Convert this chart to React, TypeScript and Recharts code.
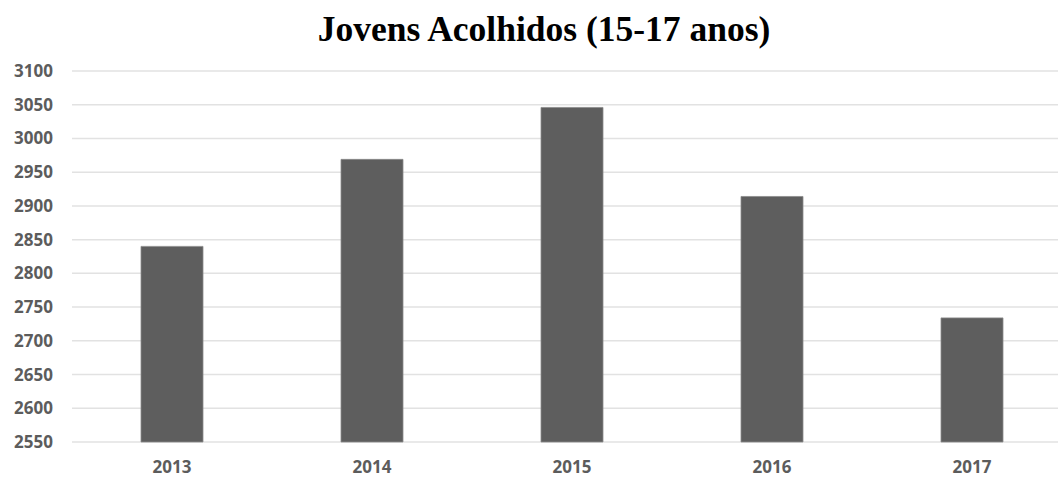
import { BarChart, Bar, XAxis, YAxis, CartesianGrid } from 'recharts';

const years = ['2013', '2014', '2015', '2016', '2017'];
const jovens = [2840, 2969, 3046, 2914, 2734];
const yTicks = [2550, 2600, 2650, 2700, 2750, 2800, 2850, 2900, 2950, 3000, 3050, 3100];

const data = years.map((ano, i) => ({ ano, valor: jovens[i] }));

const axisTick = { fontSize: 17, fill: '#5c5c5c', fontWeight: 700, fontFamily: '"Open Sans", "DejaVu Sans", sans-serif' };

export default function App() {
  return (
    <div style={{ position: 'absolute', left: 0, top: 0, width: 1058, height: 477, overflow: 'hidden', background: '#fff' }}>
      <div
        style={{
          position: 'absolute',
          left: 0,
          top: 9,
          width: 1088,
          textAlign: 'center',
          fontFamily: '"Liberation Serif", "Times New Roman", serif',
          fontWeight: 700,
          fontSize: 35.5,
          lineHeight: '40px',
          color: '#000',
        }}
      >
        Jovens Acolhidos (15-17 anos)
      </div>
      <BarChart width={1072} height={477} data={data} margin={{ top: 71, right: 0, left: 0, bottom: 0 }}>
        <CartesianGrid vertical={false} stroke="#e2e2e2" strokeWidth={1.5} />
        <XAxis
          dataKey="ano"
          height={35}
          tickLine={false}
          axisLine={false}
          tickSize={0}
          tickMargin={19}
          tick={axisTick}
        />
        <YAxis
          width={72}
          domain={[2550, 3100]}
          ticks={yTicks}
          interval={0}
          tickLine={false}
          axisLine={false}
          tickSize={0}
          tickMargin={19}
          tick={axisTick}
        />
        <Bar dataKey="valor" fill="#5e5e5e" stroke="#8a8a8a" strokeWidth={0.8} barSize={62} isAnimationActive={false} />
      </BarChart>
    </div>
  );
}
